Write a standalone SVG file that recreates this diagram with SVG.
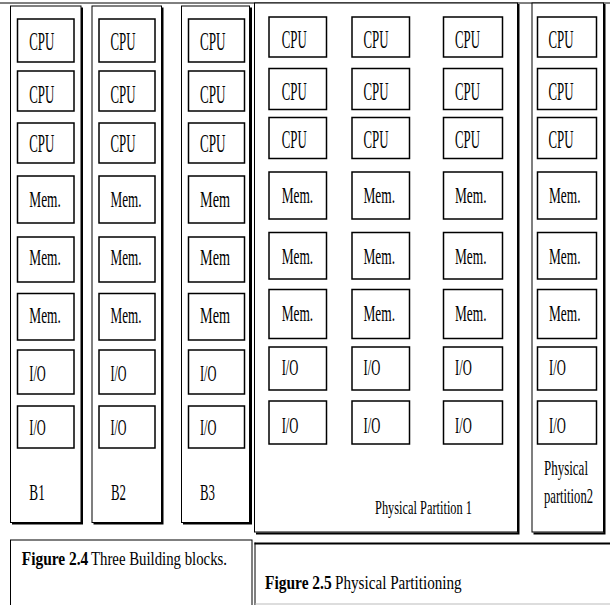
<svg xmlns="http://www.w3.org/2000/svg" width="610" height="605" viewBox="0 0 610 605">
<style>
.bg{fill:#fff}
.box{fill:#fff;stroke:#000;stroke-width:1.5}
.outer{fill:#fff;stroke:#000;stroke-width:1}
.shadow{fill:none;stroke:#000;stroke-width:2}
.lbl{font-family:"Liberation Serif",serif;font-size:13px;fill:#000}
.small{font-family:"Liberation Serif",serif;font-size:12.5px;fill:#000}
.cap{font-family:"Liberation Serif",serif;font-size:15px;fill:#000}
.bold{font-weight:bold}
</style>
<rect class="bg" x="0" y="0" width="610" height="605"/>
<line x1="0" y1="3" x2="610" y2="3" stroke="#000" stroke-width="1"/>
<g id="connectors"/>

<!-- Building block B1 -->
<g id="B1">
<rect class="outer" x="10.5" y="6" width="70.5" height="516.5"/>
<path class="shadow" d="M82,7.5 V523.5 H12"/>
<g id="B1-cpu1"><rect class="box" x="17.5" y="19" width="56.5" height="43"/><text class="lbl" transform="translate(29.3,50) scale(1,2)" textLength="25" lengthAdjust="spacingAndGlyphs">CPU</text></g>
<g id="B1-cpu2"><rect class="box" x="17.5" y="71" width="56.5" height="40"/><text class="lbl" transform="translate(29.3,103) scale(1,2)" textLength="25" lengthAdjust="spacingAndGlyphs">CPU</text></g>
<g id="B1-cpu3"><rect class="box" x="17.5" y="123" width="56.5" height="40"/><text class="lbl" transform="translate(29.3,152) scale(1,2)" textLength="25" lengthAdjust="spacingAndGlyphs">CPU</text></g>
<g id="B1-mem1"><rect class="box" x="17.5" y="176" width="56.5" height="47"/><text class="lbl" transform="translate(29.3,207) scale(1,1.85)" textLength="31.5" lengthAdjust="spacingAndGlyphs">Mem.</text></g>
<g id="B1-mem2"><rect class="box" x="17.5" y="237" width="56.5" height="45"/><text class="lbl" transform="translate(29.3,265) scale(1,1.85)" textLength="31.5" lengthAdjust="spacingAndGlyphs">Mem.</text></g>
<g id="B1-mem3"><rect class="box" x="17.5" y="293.5" width="56.5" height="46.5"/><text class="lbl" transform="translate(29.3,323) scale(1,1.85)" textLength="31.5" lengthAdjust="spacingAndGlyphs">Mem.</text></g>
<g id="B1-io1"><rect class="box" x="17.5" y="350" width="56.5" height="44"/><text class="lbl" transform="translate(29.3,381) scale(1,1.8)" textLength="16.5" lengthAdjust="spacingAndGlyphs">I/O</text></g>
<g id="B1-io2"><rect class="box" x="17.5" y="406" width="56.5" height="42"/><text class="lbl" transform="translate(29.3,435) scale(1,1.8)" textLength="16.5" lengthAdjust="spacingAndGlyphs">I/O</text></g>
<text class="lbl" transform="translate(29.3,500) scale(1,1.8)" textLength="15.5" lengthAdjust="spacingAndGlyphs">B1</text>
</g>

<!-- Building block B2 -->
<g id="B2">
<rect class="outer" x="92" y="6" width="69.5" height="516.5"/>
<path class="shadow" d="M162.5,7.5 V523.5 H93.5"/>
<g id="B2-cpu1"><rect class="box" x="99" y="19" width="56" height="43"/><text class="lbl" transform="translate(110.5,50) scale(1,2)" textLength="25" lengthAdjust="spacingAndGlyphs">CPU</text></g>
<g id="B2-cpu2"><rect class="box" x="99" y="71" width="56" height="40"/><text class="lbl" transform="translate(110.5,103) scale(1,2)" textLength="25" lengthAdjust="spacingAndGlyphs">CPU</text></g>
<g id="B2-cpu3"><rect class="box" x="99" y="123" width="56" height="40"/><text class="lbl" transform="translate(110.5,152) scale(1,2)" textLength="25" lengthAdjust="spacingAndGlyphs">CPU</text></g>
<g id="B2-mem1"><rect class="box" x="99" y="176" width="56" height="47"/><text class="lbl" transform="translate(110.5,207) scale(1,1.85)" textLength="31" lengthAdjust="spacingAndGlyphs">Mem.</text></g>
<g id="B2-mem2"><rect class="box" x="99" y="237" width="56" height="45"/><text class="lbl" transform="translate(110.5,265) scale(1,1.85)" textLength="31" lengthAdjust="spacingAndGlyphs">Mem.</text></g>
<g id="B2-mem3"><rect class="box" x="99" y="293.5" width="56" height="46.5"/><text class="lbl" transform="translate(110.5,323) scale(1,1.85)" textLength="31" lengthAdjust="spacingAndGlyphs">Mem.</text></g>
<g id="B2-io1"><rect class="box" x="99" y="350" width="56" height="44"/><text class="lbl" transform="translate(110.5,381) scale(1,1.8)" textLength="16" lengthAdjust="spacingAndGlyphs">I/O</text></g>
<g id="B2-io2"><rect class="box" x="99" y="406" width="56" height="42"/><text class="lbl" transform="translate(110.5,435) scale(1,1.8)" textLength="16" lengthAdjust="spacingAndGlyphs">I/O</text></g>
<text class="lbl" transform="translate(111,500) scale(1,1.8)" textLength="15" lengthAdjust="spacingAndGlyphs">B2</text>
</g>

<!-- Building block B3 -->
<g id="B3">
<rect class="outer" x="181.5" y="6" width="68" height="516.5"/>
<path class="shadow" d="M251,7.5 V523.5 H183"/>
<g id="B3-cpu1"><rect class="box" x="188.5" y="19" width="56" height="43"/><text class="lbl" transform="translate(200,50) scale(1,2)" textLength="25.5" lengthAdjust="spacingAndGlyphs">CPU</text></g>
<g id="B3-cpu2"><rect class="box" x="188.5" y="71" width="56" height="40"/><text class="lbl" transform="translate(200,103) scale(1,2)" textLength="25.5" lengthAdjust="spacingAndGlyphs">CPU</text></g>
<g id="B3-cpu3"><rect class="box" x="188.5" y="123" width="56" height="40"/><text class="lbl" transform="translate(200,152) scale(1,2)" textLength="25.5" lengthAdjust="spacingAndGlyphs">CPU</text></g>
<g id="B3-mem1"><rect class="box" x="188.5" y="176" width="56" height="47"/><text class="lbl" transform="translate(200,207) scale(1,1.85)" textLength="30" lengthAdjust="spacingAndGlyphs">Mem</text></g>
<g id="B3-mem2"><rect class="box" x="188.5" y="237" width="56" height="45"/><text class="lbl" transform="translate(200,265) scale(1,1.85)" textLength="30" lengthAdjust="spacingAndGlyphs">Mem</text></g>
<g id="B3-mem3"><rect class="box" x="188.5" y="293.5" width="56" height="46.5"/><text class="lbl" transform="translate(200,323) scale(1,1.85)" textLength="30" lengthAdjust="spacingAndGlyphs">Mem</text></g>
<g id="B3-io1"><rect class="box" x="188.5" y="350" width="56" height="44"/><text class="lbl" transform="translate(200,381) scale(1,1.8)" textLength="16.5" lengthAdjust="spacingAndGlyphs">I/O</text></g>
<g id="B3-io2"><rect class="box" x="188.5" y="406" width="56" height="42"/><text class="lbl" transform="translate(200,435) scale(1,1.8)" textLength="16.5" lengthAdjust="spacingAndGlyphs">I/O</text></g>
<text class="lbl" transform="translate(200,500) scale(1,1.8)" textLength="15" lengthAdjust="spacingAndGlyphs">B3</text>
</g>

<!-- Physical Partition 1 -->
<g id="P1">
<rect class="outer" x="254.5" y="3" width="263" height="529"/>
<path class="shadow" d="M518.5,4 V533.5 H256"/>
<g id="P1-c1">
<g id="P1-c1-cpu1"><rect class="box" x="269" y="17" width="57.5" height="40"/><text class="lbl" transform="translate(281.7,48) scale(1,2)" textLength="25" lengthAdjust="spacingAndGlyphs">CPU</text></g>
<g id="P1-c1-cpu2"><rect class="box" x="269" y="68.5" width="57.5" height="41"/><text class="lbl" transform="translate(281.7,100) scale(1,2)" textLength="25" lengthAdjust="spacingAndGlyphs">CPU</text></g>
<g id="P1-c1-cpu3"><rect class="box" x="269" y="117.5" width="57.5" height="41"/><text class="lbl" transform="translate(281.7,148) scale(1,2)" textLength="25" lengthAdjust="spacingAndGlyphs">CPU</text></g>
<g id="P1-c1-mem1"><rect class="box" x="269" y="172" width="57.5" height="47"/><text class="lbl" transform="translate(281.7,203) scale(1,1.85)" textLength="31.5" lengthAdjust="spacingAndGlyphs">Mem.</text></g>
<g id="P1-c1-mem2"><rect class="box" x="269" y="232.5" width="57.5" height="46.5"/><text class="lbl" transform="translate(281.7,264) scale(1,1.85)" textLength="31.5" lengthAdjust="spacingAndGlyphs">Mem.</text></g>
<g id="P1-c1-mem3"><rect class="box" x="269" y="289.5" width="57.5" height="49"/><text class="lbl" transform="translate(281.7,321) scale(1,1.85)" textLength="31.5" lengthAdjust="spacingAndGlyphs">Mem.</text></g>
<g id="P1-c1-io1"><rect class="box" x="269" y="347" width="57.5" height="43"/><text class="lbl" transform="translate(281.7,375) scale(1,1.8)" textLength="16.7" lengthAdjust="spacingAndGlyphs">I/O</text></g>
<g id="P1-c1-io2"><rect class="box" x="269" y="401" width="57.5" height="43"/><text class="lbl" transform="translate(281.7,433) scale(1,1.8)" textLength="16.7" lengthAdjust="spacingAndGlyphs">I/O</text></g>
</g>
<g id="P1-c2">
<g id="P1-c2-cpu1"><rect class="box" x="352" y="17" width="57.5" height="40"/><text class="lbl" transform="translate(363.5,48) scale(1,2)" textLength="25" lengthAdjust="spacingAndGlyphs">CPU</text></g>
<g id="P1-c2-cpu2"><rect class="box" x="352" y="68.5" width="57.5" height="41"/><text class="lbl" transform="translate(363.5,100) scale(1,2)" textLength="25" lengthAdjust="spacingAndGlyphs">CPU</text></g>
<g id="P1-c2-cpu3"><rect class="box" x="352" y="117.5" width="57.5" height="41"/><text class="lbl" transform="translate(363.5,148) scale(1,2)" textLength="25" lengthAdjust="spacingAndGlyphs">CPU</text></g>
<g id="P1-c2-mem1"><rect class="box" x="352" y="172" width="57.5" height="47"/><text class="lbl" transform="translate(363.5,203) scale(1,1.85)" textLength="31.5" lengthAdjust="spacingAndGlyphs">Mem.</text></g>
<g id="P1-c2-mem2"><rect class="box" x="352" y="232.5" width="57.5" height="46.5"/><text class="lbl" transform="translate(363.5,264) scale(1,1.85)" textLength="31.5" lengthAdjust="spacingAndGlyphs">Mem.</text></g>
<g id="P1-c2-mem3"><rect class="box" x="352" y="289.5" width="57.5" height="49"/><text class="lbl" transform="translate(363.5,321) scale(1,1.85)" textLength="31.5" lengthAdjust="spacingAndGlyphs">Mem.</text></g>
<g id="P1-c2-io1"><rect class="box" x="352" y="347" width="57.5" height="43"/><text class="lbl" transform="translate(363.5,375) scale(1,1.8)" textLength="16.7" lengthAdjust="spacingAndGlyphs">I/O</text></g>
<g id="P1-c2-io2"><rect class="box" x="352" y="401" width="57.5" height="43"/><text class="lbl" transform="translate(363.5,433) scale(1,1.8)" textLength="16.7" lengthAdjust="spacingAndGlyphs">I/O</text></g>
</g>
<g id="P1-c3">
<g id="P1-c3-cpu1"><rect class="box" x="443.5" y="17" width="59" height="40"/><text class="lbl" transform="translate(455,48) scale(1,2)" textLength="25" lengthAdjust="spacingAndGlyphs">CPU</text></g>
<g id="P1-c3-cpu2"><rect class="box" x="443.5" y="68.5" width="59" height="41"/><text class="lbl" transform="translate(455,100) scale(1,2)" textLength="25" lengthAdjust="spacingAndGlyphs">CPU</text></g>
<g id="P1-c3-cpu3"><rect class="box" x="443.5" y="117.5" width="59" height="41"/><text class="lbl" transform="translate(455,148) scale(1,2)" textLength="25" lengthAdjust="spacingAndGlyphs">CPU</text></g>
<g id="P1-c3-mem1"><rect class="box" x="443.5" y="172" width="59" height="47"/><text class="lbl" transform="translate(455,203) scale(1,1.85)" textLength="31.5" lengthAdjust="spacingAndGlyphs">Mem.</text></g>
<g id="P1-c3-mem2"><rect class="box" x="443.5" y="232.5" width="59" height="46.5"/><text class="lbl" transform="translate(455,264) scale(1,1.85)" textLength="31.5" lengthAdjust="spacingAndGlyphs">Mem.</text></g>
<g id="P1-c3-mem3"><rect class="box" x="443.5" y="289.5" width="59" height="49"/><text class="lbl" transform="translate(455,321) scale(1,1.85)" textLength="31.5" lengthAdjust="spacingAndGlyphs">Mem.</text></g>
<g id="P1-c3-io1"><rect class="box" x="443.5" y="347" width="59" height="43"/><text class="lbl" transform="translate(455,375) scale(1,1.8)" textLength="16.7" lengthAdjust="spacingAndGlyphs">I/O</text></g>
<g id="P1-c3-io2"><rect class="box" x="443.5" y="401" width="59" height="43"/><text class="lbl" transform="translate(455,433) scale(1,1.8)" textLength="16.7" lengthAdjust="spacingAndGlyphs">I/O</text></g>
</g>
<text class="small" transform="translate(375,514) scale(1,1.5)" textLength="97" lengthAdjust="spacingAndGlyphs">Physical Partition 1</text>
</g>

<!-- Physical partition 2 -->
<g id="P2">
<rect class="outer" x="532" y="3" width="71.5" height="529"/>
<path class="shadow" d="M604.5,4 V533.5 H533.5"/>
<g id="P2-cpu1"><rect class="box" x="537.5" y="17" width="59" height="40"/><text class="lbl" transform="translate(548.5,48) scale(1,2)" textLength="25" lengthAdjust="spacingAndGlyphs">CPU</text></g>
<g id="P2-cpu2"><rect class="box" x="537.5" y="68.5" width="59" height="41"/><text class="lbl" transform="translate(548.5,100) scale(1,2)" textLength="25" lengthAdjust="spacingAndGlyphs">CPU</text></g>
<g id="P2-cpu3"><rect class="box" x="537.5" y="117.5" width="59" height="41"/><text class="lbl" transform="translate(548.5,148) scale(1,2)" textLength="25" lengthAdjust="spacingAndGlyphs">CPU</text></g>
<g id="P2-mem1"><rect class="box" x="537.5" y="172" width="59" height="47"/><text class="lbl" transform="translate(549,203) scale(1,1.85)" textLength="31.5" lengthAdjust="spacingAndGlyphs">Mem.</text></g>
<g id="P2-mem2"><rect class="box" x="537.5" y="232.5" width="59" height="46.5"/><text class="lbl" transform="translate(549,264) scale(1,1.85)" textLength="31.5" lengthAdjust="spacingAndGlyphs">Mem.</text></g>
<g id="P2-mem3"><rect class="box" x="537.5" y="289.5" width="59" height="49"/><text class="lbl" transform="translate(549,321) scale(1,1.85)" textLength="31.5" lengthAdjust="spacingAndGlyphs">Mem.</text></g>
<g id="P2-io1"><rect class="box" x="537.5" y="347" width="59" height="43"/><text class="lbl" transform="translate(549,375) scale(1,1.8)" textLength="16.7" lengthAdjust="spacingAndGlyphs">I/O</text></g>
<g id="P2-io2"><rect class="box" x="537.5" y="401" width="59" height="43"/><text class="lbl" transform="translate(549,433) scale(1,1.8)" textLength="16.7" lengthAdjust="spacingAndGlyphs">I/O</text></g>
<text class="small" transform="translate(544,475) scale(1,1.55)" style="font-size:13px" textLength="44" lengthAdjust="spacingAndGlyphs">Physical</text>
<text class="small" transform="translate(544,503) scale(1,1.6)" style="font-size:12.6px" textLength="49" lengthAdjust="spacingAndGlyphs">partition2</text>
</g>

<!-- Captions -->
<g id="caption-2-4">
<rect class="outer" x="10.5" y="540" width="241.5" height="80"/>
<text class="cap bold" transform="translate(21.7,565) scale(1,1.28)" textLength="66.6" lengthAdjust="spacingAndGlyphs">Figure 2.4</text>
<text class="cap" transform="translate(91,565) scale(1,1.3)" textLength="136" lengthAdjust="spacingAndGlyphs">Three Building blocks.</text>
</g>
<g id="caption-2-5">
<line x1="254.5" y1="543.5" x2="610" y2="543.5" stroke="#000" stroke-width="2"/>
<line x1="255" y1="542.5" x2="255" y2="605" stroke="#000" stroke-width="1"/>
<line x1="255" y1="604" x2="610" y2="604" stroke="#bbb" stroke-width="1"/>
<text class="cap bold" transform="translate(265,588.5) scale(1,1.28)" textLength="66.7" lengthAdjust="spacingAndGlyphs">Figure 2.5</text>
<text class="cap" transform="translate(335,588.5) scale(1,1.3)" textLength="126.7" lengthAdjust="spacingAndGlyphs">Physical Partitioning</text>
</g>
</svg>
